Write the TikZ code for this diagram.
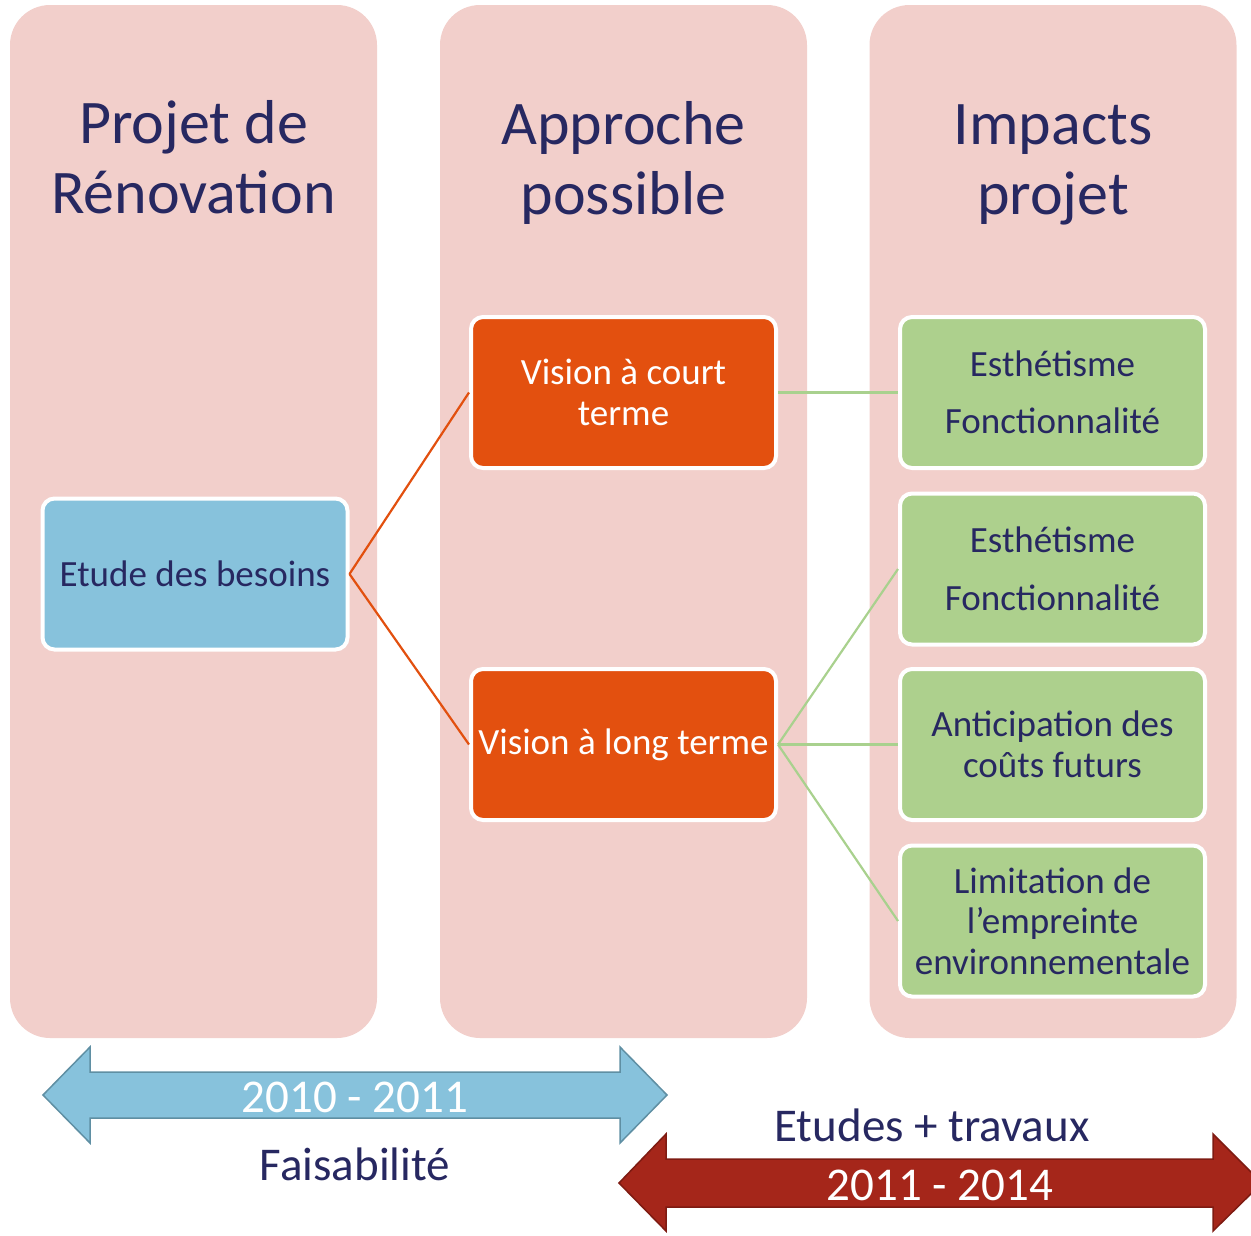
\documentclass[tikz,border=0pt]{standalone}
\usepackage{fontspec}
\setmainfont{Carlito}
\definecolor{colpink}{HTML}{F2CFCB}
\definecolor{bluebox}{HTML}{87C2DC}
\definecolor{orangebox}{HTML}{E3500F}
\definecolor{greenbox}{HTML}{ADD08D}
\definecolor{navy}{HTML}{272861}
\definecolor{redarrow}{HTML}{A5261A}
\definecolor{redborder}{HTML}{7E1B12}
\definecolor{blueborder}{HTML}{5F8FA3}
\definecolor{greenline}{HTML}{A9D18E}
\definecolor{orangeline}{HTML}{E2500F}
\tikzset{
  column/.style={rectangle, fill=colpink, rounded corners=40pt, minimum width=367pt, minimum height=1033pt, inner sep=0pt},
  title/.style={text=navy, align=center, inner sep=0pt, font=\fontsize{62}{70}\selectfont},
  box/.style={rectangle, draw=white, line width=4pt, rounded corners=12pt, minimum width=305pt, minimum height=151pt, inner sep=0pt, align=center, font=\fontsize{37}{40.5}\selectfont},
  bluestyle/.style={box, fill=bluebox, text=navy},
  orangestyle/.style={box, fill=orangebox, text=white},
  greenstyle/.style={box, fill=greenbox, text=navy},
  olink/.style={draw=orangeline, line width=2.2pt},
  glink/.style={draw=greenline, line width=2.2pt},
  arrowlabel/.style={inner sep=0pt, font=\fontsize{47}{52}\selectfont}
}
\begin{document}
\begin{tikzpicture}[x=1pt,y=-1pt]
\useasboundingbox (0,0) rectangle (1251,1235);
\clip (0,0) rectangle (1251,1235);
% columns
\node[column] (c1) at (193.5,521.5) {};
\node[column] (c2) at (623.5,521.5) {};
\node[column] (c3) at (1053,521.5) {};
% titles
\node[title] (t1) at (193.5,157) {Projet de\\Rénovation};
\node[title] (t2) at (623.5,163) {Approche\\possible};
\node[title] (t3) at (1053,165) {Impacts\\projet};
% boxes
\node[bluestyle] (etude) at (195,574) {Etude des besoins};
\node[orangestyle] (court) at (623.5,392.5) {Vision à court\\terme};
\node[orangestyle] (long) at (623.5,744.5) {Vision à long terme};
\node[greenstyle] (g1) at (1052.5,392.5) {Esthétisme\\[17pt]Fonctionnalité};
\node[greenstyle] (g2) at (1052.5,569) {Esthétisme\\[17pt]Fonctionnalité};
\node[greenstyle] (g3) at (1052.5,744.5) {Anticipation des\\coûts futurs};
\node[greenstyle] (g4) at (1052.5,921) {Limitation de\\l’empreinte\\environnementale};
% connectors
\draw[olink] (etude.east) -- (court.west);
\draw[olink] (etude.east) -- (long.west);
\draw[glink] (court.east) -- (g1.west);
\draw[glink] (long.east) -- (g2.west);
\draw[glink] (long.east) -- (g3.west);
\draw[glink] (long.east) -- (g4.west);
% blue double arrow
\draw[fill=bluebox, draw=blueborder, line width=1.5pt, line join=miter]
  (43,1095) -- (90,1047) -- (90,1072) -- (620,1072) -- (620,1047) -- (667,1095)
  -- (620,1143) -- (620,1118) -- (90,1118) -- (90,1143) -- cycle;
\node[arrowlabel, text=white] (y1) at (355,1097) {2010 - 2011};
\node[arrowlabel, text=navy] (fais) at (355,1164) {Faisabilité};
% red double arrow
\draw[fill=redarrow, draw=redborder, line width=1.5pt, line join=miter]
  (619,1183) -- (666,1134) -- (666,1159) -- (1213,1159) -- (1213,1134) -- (1262,1183)
  -- (1213,1231) -- (1213,1207) -- (666,1207) -- (666,1231) -- cycle;
\node[arrowlabel, text=navy] (etudes) at (932,1125) {Etudes + travaux};
\node[arrowlabel, text=white] (y2) at (940,1185) {2011 - 2014};
\end{tikzpicture}
\end{document}
